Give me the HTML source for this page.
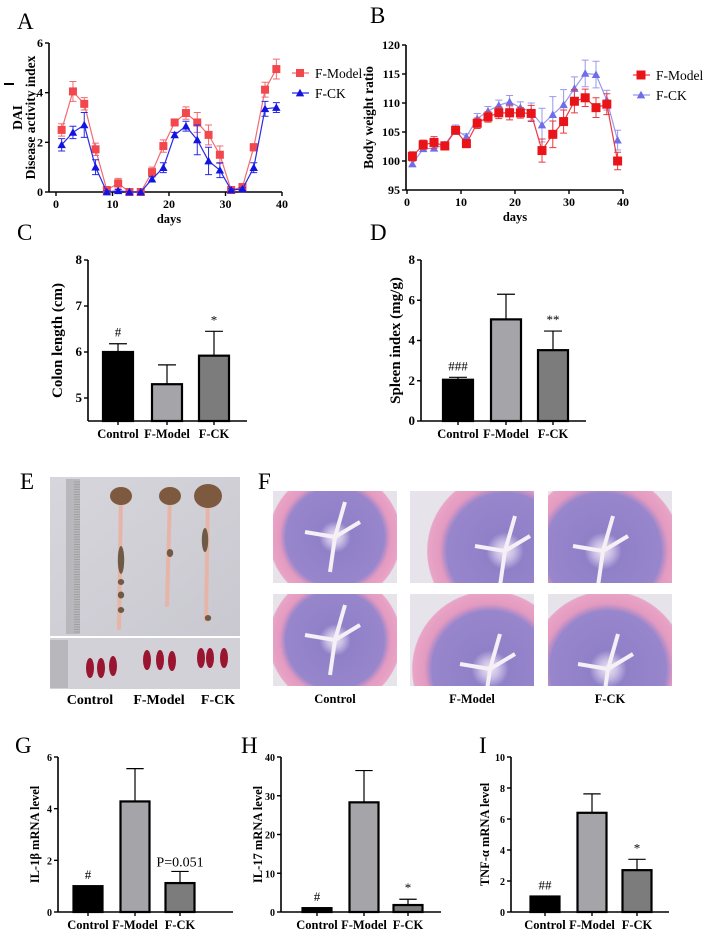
<!DOCTYPE html>
<html><head><meta charset="utf-8"><style>
html,body{margin:0;padding:0;background:#fff;}
svg, svg text{font-family:"Liberation Serif",serif;}
svg{display:block;}
.tk{font-size:12px;font-weight:bold;font-family:"Liberation Serif",serif;}
.tt{font-size:12.5px;font-weight:bold;font-family:"Liberation Serif",serif;}
.pl{font-size:23px;font-family:"Liberation Serif",serif;}
</style></head><body>
<svg id="fig" width="709" height="948" viewBox="0 0 709 948" xmlns="http://www.w3.org/2000/svg" font-family="Liberation Serif, serif">
<defs>
<radialGradient id="hist" cx="50%" cy="50%" r="60%">
<stop offset="0" stop-color="#ece6f0"/><stop offset="0.1" stop-color="#c8bce4"/><stop offset="0.2" stop-color="#8f80c8"/><stop offset="0.62" stop-color="#9886cc"/><stop offset="0.7" stop-color="#e49ac0"/><stop offset="0.82" stop-color="#e8a4c6"/><stop offset="0.86" stop-color="#e9e6ec"/><stop offset="1" stop-color="#e4e2e8"/>
</radialGradient>
<linearGradient id="photo" x1="0" y1="0" x2="1" y2="1"><stop offset="0" stop-color="#d7d6dc"/><stop offset="1" stop-color="#c9c8d0"/></linearGradient>
</defs>
<g id="root"></g>
</svg>
<script>
// ---------- Panel A data ----------
const daysA = [1,3,5,7,9,11,13,15,17,19,21,23,25,27,29,31,33,35,37,39];
const dai_model = [2.5,4.05,3.55,1.72,0.08,0.35,0,0,0.8,1.85,2.8,3.18,2.8,2.3,1.5,0.08,0.2,1.8,4.12,4.95];
const dai_model_err = [0.25,0.4,0.25,0.25,0.05,0.2,0,0,0.2,0.25,0.1,0.25,0.4,0.4,0.35,0.05,0.1,0.15,0.3,0.4];
const dai_ck = [1.9,2.4,2.7,1.0,0,0.05,0,0,0.52,0.98,2.3,2.65,2.1,1.25,0.88,0.08,0.12,0.98,3.35,3.4];
const dai_ck_err = [0.25,0.25,0.5,0.3,0.05,0.05,0,0,0.1,0.2,0.1,0.2,0.6,0.55,0.3,0.05,0.05,0.2,0.3,0.2];
const ticksA_x = [0,10,20,30,40];
const ticksA_y = [0,2,4,6];
// ---------- Panel B data ----------
const daysB = [1,3,5,7,9,11,13,15,17,19,21,23,25,27,29,31,33,35,37,39];
const bw_model = [100.8,102.8,103.2,102.6,105.3,103.0,106.5,107.6,108.3,108.3,108.3,108.2,101.8,104.6,106.8,110.3,110.9,109.2,109.8,100.0];
const bw_model_err = [0.8,0.8,1.0,0.7,0.6,0.7,0.9,0.9,1.0,1.2,0.9,1.4,2.0,2.3,2.0,2.0,1.5,1.7,1.8,1.5];
const bw_ck = [99.5,102.1,102.2,102.8,105.4,104.2,107.3,108.6,109.6,110.2,109.2,108.5,106.2,108.0,109.7,112.5,115.1,114.9,110.5,103.6];
const bw_ck_err = [0.5,0.4,0.4,0.5,0.8,0.5,0.9,0.8,0.9,1.1,1.0,1.5,2.9,3.1,2.6,2.0,2.3,2.3,1.7,1.7];
const ticksB_x = [0,10,20,30,40];
const ticksB_y = [95,100,105,110,115,120];
// ---------- Bar panels ----------
const groups = ["Control","F-Model","F-CK"];
const colon_vals = [6.0,5.3,5.92];
const colon_err = [0.18,0.42,0.53];
const colon_sig = ["#","","*"];
const ticksC = [5,6,7,8];
const spleen_vals = [2.05,5.05,3.52];
const spleen_err = [0.12,1.25,0.95];
const spleen_sig = ["###","","**"];
const ticksD = [0,2,4,6,8];
const il1b_vals = [1.0,4.28,1.12];
const il1b_err = [0,1.27,0.45];
const il1b_sig = ["#","","P=0.051"];
const ticksG = [0,2,4,6];
const il17_vals = [1.0,28.3,1.8];
const il17_err = [0,8.2,1.5];
const il17_sig = ["#","","*"];
const ticksH = [0,10,20,30,40];
const tnf_vals = [1.0,6.4,2.7];
const tnf_err = [0,1.22,0.7];
const tnf_sig = ["##","","*"];
const ticksI = [0,2,4,6,8,10];

const NS="http://www.w3.org/2000/svg";
const root=document.getElementById('root');
function mk(tag,attrs,parent,text){const e=document.createElementNS(NS,tag);for(const k in attrs)e.setAttribute(k,attrs[k]);if(tag==='text')e.setAttribute('font-family','Liberation Serif, serif');if(text!==undefined)e.textContent=text;(parent||root).appendChild(e);return e;}
function grp(name){const g=mk('g',{});


return g;}
function letter(t,x,y){const e=mk('text',{x:x,y:y,class:'pl','font-size':23},root,t);

}
function scale(d0,d1,r0,r1){return v=>r0+(v-d0)*(r1-r0)/(d1-d0);}

function lineChart(o){
  const g=grp(o.name);
  const sx=scale(0,40,o.x0,o.x1), sy=scale(o.ymin,o.ymax,o.yb,o.yt);
  const ax=grp(o.name+'-axes'); g.appendChild(ax);
  mk('line',{x1:o.ax,y1:o.yb,x2:o.x1,y2:o.yb,stroke:'#000','stroke-width':1.6},ax);
  mk('line',{x1:o.ax,y1:o.yb,x2:o.ax,y2:o.yt,stroke:'#000','stroke-width':1.6},ax);
  o.tx.forEach(t=>{const x=sx(t);mk('line',{x1:x,y1:o.yb,x2:x,y2:o.yb+4,stroke:'#000','stroke-width':1.4},ax);
    const e=mk('text',{x:x,y:o.yb+16,'text-anchor':'middle',class:'tk'},ax,t);
    
    });
  o.ty.forEach(t=>{const y=sy(t);mk('line',{x1:o.ax-4,y1:y,x2:o.ax,y2:y,stroke:'#000','stroke-width':1.4},ax);
    const e=mk('text',{x:o.ax-6,y:y+4,'text-anchor':'end',class:'tk'},ax,t);
    
    });
  const xt=mk('text',{x:(o.x0+o.x1)/2,y:o.yb+31,'text-anchor':'middle',class:'tt'},g,'days');
  
  
  o.ylab.forEach((l,i)=>{const e=mk('text',{transform:`translate(${o.ylx+i*13},${(o.yt+o.yb)/2}) rotate(-90)`,'text-anchor':'middle',class:'tt',style:'font-size:13.5px'},g,l);
    
    });
  o.series.forEach((s,si)=>{
    const sg=grp('series-'+s.label.toLowerCase()); g.appendChild(sg);
    const pts=o.xs.map((d,i)=>[sx(d),sy(s.v[i])]);
    mk('polyline',{points:pts.map(p=>p.join(',')).join(' '),fill:'none',stroke:s.line,'stroke-width':1.2},sg);
    o.xs.forEach((d,i)=>{const x=sx(d),e=s.e[i];
      if(e>0){const y1=sy(s.v[i]+e),y2=sy(s.v[i]-e);
      mk('path',{d:`M${x},${y1}V${y2}M${x-3.5},${y1}H${x+3.5}M${x-3.5},${y2}H${x+3.5}`,stroke:s.line,'stroke-width':1,fill:'none'},sg);}
      const y=sy(s.v[i]);
      let m;
      if(s.shape==='sq') m=mk('rect',{x:x-s.ms,y:y-s.ms,width:2*s.ms,height:2*s.ms,fill:s.color},sg);
      else m=mk('polygon',{points:`${x},${y-s.ms} ${x-s.ms},${y+s.ms*0.8} ${x+s.ms},${y+s.ms*0.8}`,fill:s.color},sg);
      
      
    });
    const lg=grp('legend-entry'); g.appendChild(lg);
    const ly=o.ly+s.li*20;
    mk('line',{x1:o.lx-8,y1:ly,x2:o.lx+9,y2:ly,stroke:s.line,'stroke-width':1.3},lg);
    if(s.shape==='sq') mk('rect',{x:o.lx-s.ms,y:ly-s.ms,width:2*s.ms,height:2*s.ms,fill:s.color},lg);
    else mk('polygon',{points:`${o.lx},${ly-s.ms} ${o.lx-s.ms},${ly+s.ms*0.8} ${o.lx+s.ms},${ly+s.ms*0.8}`,fill:s.color},lg);
    mk('text',{x:o.lx+15,y:ly+5,style:'font-size:13.5px'},lg,s.label);
  });
}

function barChart(o){
  const g=grp(o.name);
  const sy=scale(o.ymin,o.ymax,o.yb,o.yt);
  const colors=['#000','#a4a4a9','#7c7c7c'];
  o.vals.forEach((v,i)=>{const c=o.cx[i],y=sy(v),e=o.err[i];
    if(e>0){const ye=sy(v+e);mk('path',{d:`M${c},${y}V${ye}M${c-o.w*0.28},${ye}H${c+o.w*0.28}`,stroke:'#000','stroke-width':1.2,fill:'none'},g);}
    const b=mk('rect',{x:c-o.w/2+1,y:y,width:o.w-2,height:o.yb-y,fill:colors[i],stroke:'#000','stroke-width':2.2},g);
    
    
    if(o.sig[i]){const ye=sy(v+e);const big=o.sig[i].startsWith('P');
      const s=mk('text',{x:c,y:ye-(big?5:7),'text-anchor':'middle',style:`font-size:${big?14:13}px`},g,o.sig[i]);
      
      }
    mk('line',{x1:c,y1:o.yb,x2:c,y2:o.yb+4,stroke:'#000','stroke-width':1.4},g);
    const t=mk('text',{x:c,y:o.yb+17,'text-anchor':'middle',class:'tt'},g,groups[i]);
    
    
  });
  mk('line',{x1:o.ax,y1:o.yb,x2:o.xe,y2:o.yb,stroke:'#000','stroke-width':1.6},g);
  mk('line',{x1:o.ax,y1:o.yb,x2:o.ax,y2:sy(o.ymax),stroke:'#000','stroke-width':1.6},g);
  o.ticks.forEach(t=>{const y=sy(t);mk('line',{x1:o.ax-4,y1:y,x2:o.ax,y2:y,stroke:'#000','stroke-width':1.4},g);
    const e=mk('text',{x:o.ax-6,y:y+4,'text-anchor':'end',class:'tk',style:o.tks||''},g,t);
    
    });
  const yl=mk('text',{transform:`translate(${o.ylx},${(o.yt+o.yb)/2}) rotate(-90)`,'text-anchor':'middle',class:'tt',style:o.yls||''},g,o.ylab);
  
  
}

letter('A',17,29); letter('B',370,23); letter('C',17,240); letter('D',370,240);
letter('E',20,489); letter('F',258,489); letter('G',15,753); letter('H',241,753); letter('I',479,753);

lineChart({name:'chart-dai',xs:daysA,x0:56,x1:282,ax:49,yb:192,yt:43,ymin:0,ymax:6,tx:ticksA_x,ty:ticksA_y,
  ylab:['DAI','Disease activity index'],ylx:22,lx:300,ly:73,
  series:[{label:'F-Model',li:0,v:dai_model,e:dai_model_err,color:'#f2474d',line:'#f26b70',shape:'sq',ms:4},
          {label:'F-CK',li:1,v:dai_ck,e:dai_ck_err,color:'#1414e0',line:'#2a2ae6',shape:'tri',ms:4.2}]});
lineChart({name:'chart-body-weight',xs:daysB,x0:407,x1:623,ax:406,yb:190,yt:45,ymin:95,ymax:120,tx:ticksB_x,ty:ticksB_y,
  ylab:['Body weight ratio'],ylx:373,lx:641,ly:75,
  series:[{label:'F-CK',li:1,v:bw_ck,e:bw_ck_err,color:'#6e6ee8',line:'#9898f0',shape:'tri',ms:4.2},
          {label:'F-Model',li:0,v:bw_model,e:bw_model_err,color:'#e8141a',line:'#ea3a3f',shape:'sq',ms:4.5}]});

barChart({name:'chart-colon-length',vals:colon_vals,err:colon_err,sig:colon_sig,ticks:ticksC,ymin:4.5,ymax:8,yb:421,yt:260,ax:88,xe:247,cx:[118,167,214],w:32,ylab:'Colon length (cm)',ylx:62,yls:'font-size:15px',tks:'font-size:13px'});
barChart({name:'chart-spleen-index',vals:spleen_vals,err:spleen_err,sig:spleen_sig,ticks:ticksD,ymin:0,ymax:8,yb:421,yt:260,ax:421,xe:586,cx:[458,506,553],w:32,ylab:'Spleen index (mg/g)',ylx:400,yls:'font-size:15px',tks:'font-size:13px'});
barChart({name:'chart-il1b',vals:il1b_vals,err:il1b_err,sig:il1b_sig,ticks:ticksG,ymin:0,ymax:6,yb:912,yt:757,ax:58,xe:233,cx:[88,135,180],w:31,ylab:'IL-1β  mRNA level',ylx:39,tks:'font-size:10px',yls:'font-size:12.5px'});
barChart({name:'chart-il17',vals:il17_vals,err:il17_err,sig:il17_sig,ticks:ticksH,ymin:0,ymax:40,yb:912,yt:757,ax:281,xe:441,cx:[317,364,408],w:31,ylab:'IL-17  mRNA level',ylx:262,tks:'font-size:10px',yls:'font-size:12.5px'});
barChart({name:'chart-tnfa',vals:tnf_vals,err:tnf_err,sig:tnf_sig,ticks:ticksI,ymin:0,ymax:10,yb:912,yt:757,ax:511,xe:669,cx:[545,592,637],w:31,ylab:'TNF-α mRNA level',ylx:489,tks:'font-size:10px',yls:'font-size:12.5px'});

// ---------- Panel E photo ----------
(function(){
  const g=grp('colon-spleen-photo');
  mk('rect',{x:50,y:477,width:190,height:159,fill:'url(#photo)'},g);
  mk('rect',{x:50,y:638,width:190,height:51,fill:'#d2d1d7'},g);
  mk('rect',{x:66,y:479,width:14,height:155,fill:'#b8b8bc'},g);
  mk('rect',{x:50,y:640,width:18,height:48,fill:'#b8b8bc'},g);
  for(let y=482;y<634;y+=2.5) mk('line',{x1:74,y1:y,x2:80,y2:y,stroke:'#888','stroke-width':0.5},g);
  const col=[[121,628],[170,605],[208,620]];
  col.forEach((c,i)=>{mk('line',{x1:c[0],y1:495,x2:c[0]-(i===1?3:2),y2:c[1],stroke:'#e7b4a8','stroke-width':4,'stroke-linecap':'round'},g);
    mk('ellipse',{cx:c[0],cy:496,rx:i===2?14:11,ry:i===2?12:9,fill:'#7d5a3f'},g);});
  [[121,560,28],[121,582,6],[121,595,7],[121,610,6],[170,553,8],[205,540,24],[208,618,6]].forEach(s=>mk('ellipse',{cx:s[0],cy:s[1],rx:3.2,ry:s[2]/2,fill:'#6e5a45'},g));
  [[90,668],[101,668],[113,666],[147,660],[160,660],[172,661],[201,658],[210,658],[224,658]].forEach(s=>mk('ellipse',{cx:s[0],cy:s[1],rx:4,ry:10,fill:'#9a1630'},g));
  [['Control',90],['F-Model',159],['F-CK',218]].forEach(l=>{const t=mk('text',{x:l[1],y:704,'text-anchor':'middle',style:'font-size:14px;font-weight:bold'},g,l[0]);
    
    });
})();
// ---------- Panel F histology ----------
(function(){
  const g=grp('histology-images');
  const xs=[273,410,548], ys=[491,594];
  ys.forEach(y=>xs.forEach((x,i)=>{
    const c=mk('g',{},g);
    mk('rect',{x:x,y:y,width:124,height:92,fill:'#e6e3ea'},c);
    const svgc=mk('svg',{x:x,y:y,width:124,height:92},c);
    const cx=i===0?62:(i===1?(y===491?95:80):(y===491?55:60)), cy=i===0?46:(y===491?60:75);
    mk('circle',{cx:cx,cy:cy,r:i===0?66:78,fill:'url(#hist)'},svgc);
    mk('path',{d:`M${cx-30},${cy-5}L${cx},${cy}L${cx+25},${cy-15}M${cx},${cy}L${cx-5},${cy+35}M${cx},${cy}L${cx+10},${cy-35}`,stroke:'#f4f0f6','stroke-width':4,fill:'none'},svgc);
    mk('line',{x1:4,y1:84,x2:14,y2:84,stroke:'#000','stroke-width':1.5},c);
  }));
  [['Control',335],['F-Model',472],['F-CK',610]].forEach(l=>{const t=mk('text',{x:l[1],y:703,'text-anchor':'middle',class:'tt'},g,l[0]);
    
    });
})();
</script>
</body></html>
